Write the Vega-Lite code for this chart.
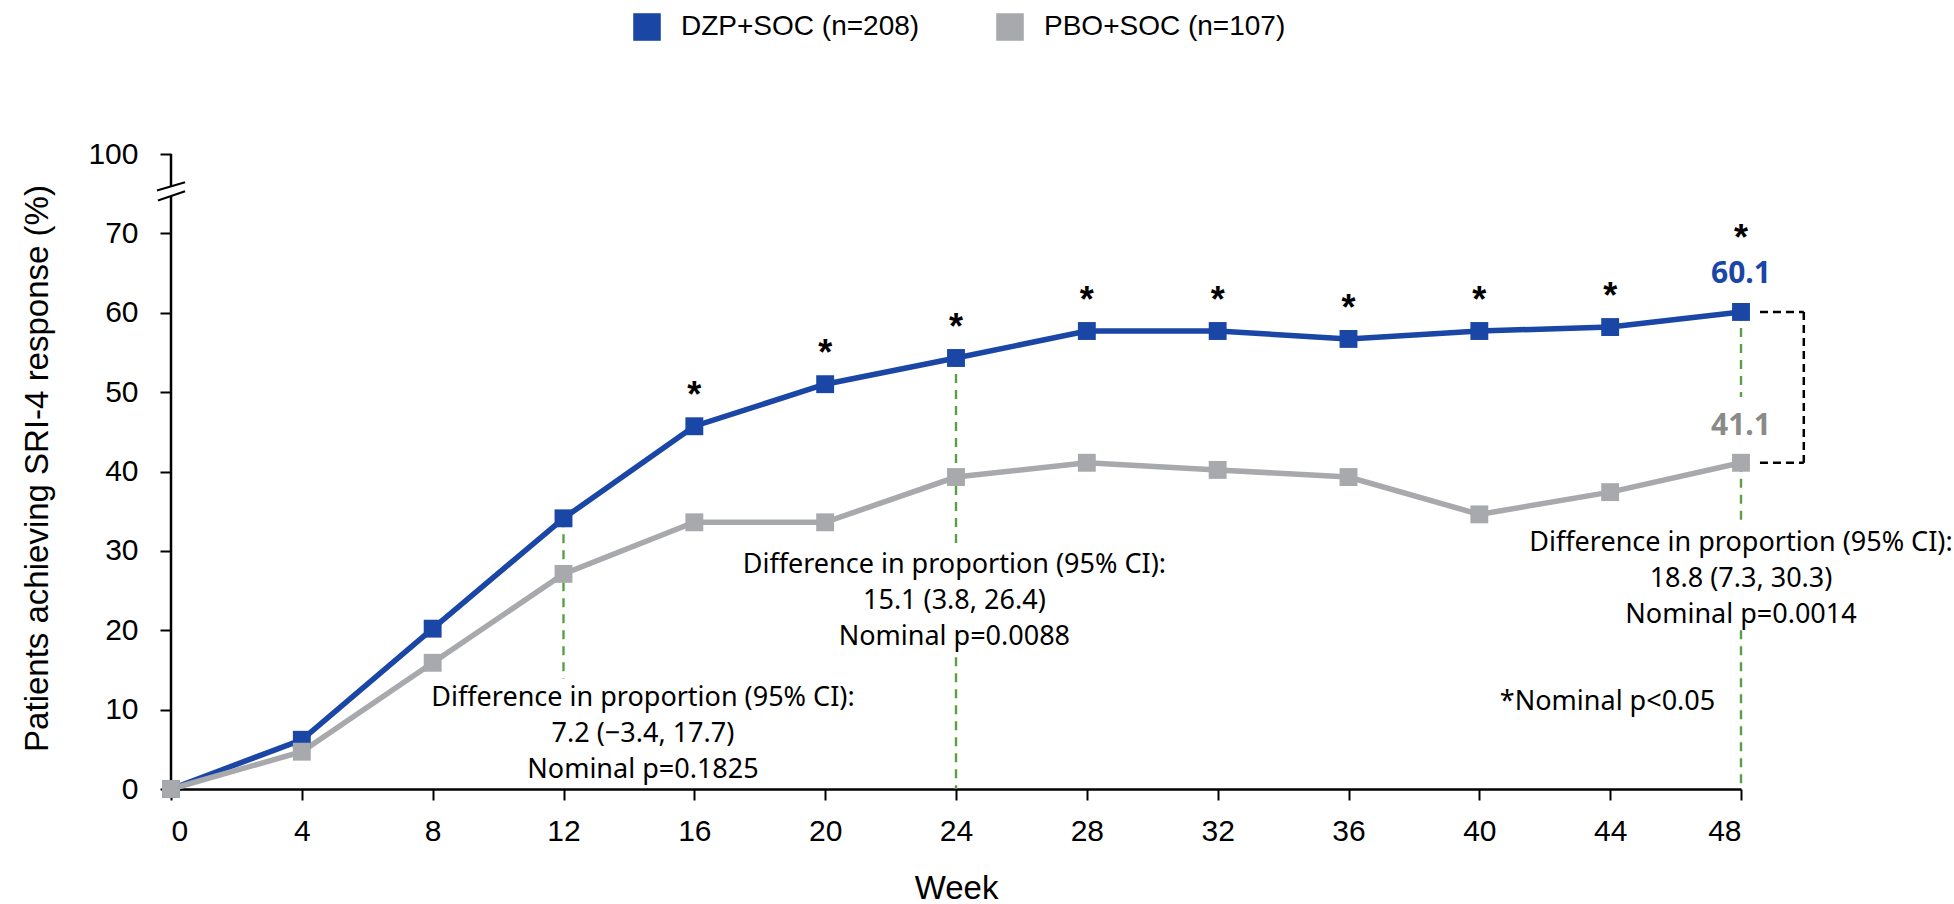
{
  "$schema": "https://vega.github.io/schema/vega-lite/v6.json",
  "width": 1570,
  "height": 635,
  "autosize": {"type": "none"},
  "padding": {"left": 171, "top": 154, "right": 213, "bottom": 115},
  "background": "white",
  "config": {
    "view": {"stroke": null},
    "font": "Liberation Sans",
    "axis": {
      "domainColor": "black", "domainWidth": 2.5, "tickColor": "black", "tickWidth": 2, "tickSize": 11,
      "labelFont": "Liberation Sans", "labelFontSize": 30, "labelColor": "black",
      "titleFont": "Liberation Sans", "titleFontSize": 33, "titleFontWeight": "normal", "titleColor": "black",
      "grid": false
    },
    "legend": {
      "orient": "none", "legendX": 462, "legendY": -141, "direction": "horizontal",
      "symbolType": "square", "symbolSize": 760, "symbolStrokeWidth": 0,
      "labelFont": "Liberation Sans", "labelFontSize": 28, "labelColor": "black", "labelLimit": 0,
      "labelOffset": 20, "columnPadding": 76
    }
  },
  "datasets": {
    "series": [
      {"week": 0, "v": 0, "grp": "DZP+SOC (n=208)"},
      {"week": 4, "v": 6.2, "grp": "DZP+SOC (n=208)"},
      {"week": 8, "v": 20.2, "grp": "DZP+SOC (n=208)"},
      {"week": 12, "v": 34.1, "grp": "DZP+SOC (n=208)"},
      {"week": 16, "v": 45.7, "grp": "DZP+SOC (n=208)"},
      {"week": 20, "v": 51.0, "grp": "DZP+SOC (n=208)"},
      {"week": 24, "v": 54.3, "grp": "DZP+SOC (n=208)"},
      {"week": 28, "v": 57.7, "grp": "DZP+SOC (n=208)"},
      {"week": 32, "v": 57.7, "grp": "DZP+SOC (n=208)"},
      {"week": 36, "v": 56.7, "grp": "DZP+SOC (n=208)"},
      {"week": 40, "v": 57.7, "grp": "DZP+SOC (n=208)"},
      {"week": 44, "v": 58.2, "grp": "DZP+SOC (n=208)"},
      {"week": 48, "v": 60.1, "grp": "DZP+SOC (n=208)"},
      {"week": 0, "v": 0, "grp": "PBO+SOC (n=107)"},
      {"week": 4, "v": 4.7, "grp": "PBO+SOC (n=107)"},
      {"week": 8, "v": 15.9, "grp": "PBO+SOC (n=107)"},
      {"week": 12, "v": 27.1, "grp": "PBO+SOC (n=107)"},
      {"week": 16, "v": 33.6, "grp": "PBO+SOC (n=107)"},
      {"week": 20, "v": 33.6, "grp": "PBO+SOC (n=107)"},
      {"week": 24, "v": 39.3, "grp": "PBO+SOC (n=107)"},
      {"week": 28, "v": 41.1, "grp": "PBO+SOC (n=107)"},
      {"week": 32, "v": 40.2, "grp": "PBO+SOC (n=107)"},
      {"week": 36, "v": 39.3, "grp": "PBO+SOC (n=107)"},
      {"week": 40, "v": 34.6, "grp": "PBO+SOC (n=107)"},
      {"week": 44, "v": 37.4, "grp": "PBO+SOC (n=107)"},
      {"week": 48, "v": 41.1, "grp": "PBO+SOC (n=107)"}
    ],
    "guides": [
      {"week": 12, "v": 34.1, "v2": 13.9},
      {"week": 24, "v": 54.3, "v2": 30.7},
      {"week": 24, "v": 16.6, "v2": 0},
      {"week": 48, "v": 60.1, "v2": 49.4},
      {"week": 48, "v": 41.1, "v2": 33.5},
      {"week": 48, "v": 20.0, "v2": 0}
    ],
    "bracket": [
      {"week": 48.58, "week2": 49.92, "v": 60.1, "v2": 60.1},
      {"week": 49.92, "week2": 49.92, "v": 60.1, "v2": 41.1},
      {"week": 48.58, "week2": 49.92, "v": 41.1, "v2": 41.1}
    ],
    "axisline": [
      {"week": 0, "week2": 0, "v": 0, "v2": 74.7},
      {"week": 0, "week2": 0, "v": 75.95, "v2": 80}
    ],
    "slashes": [
      {"week": -0.43, "week2": 0.43, "v": 75.4, "v2": 76.45},
      {"week": -0.40, "week2": 0.43, "v": 74.15, "v2": 75.3}
    ],
    "notes": [
      {"week": 14.43, "v": 11.46, "t": "Difference in proportion (95% CI):\n7.2 (\u22123.4, 17.7)\nNominal p=0.1825"},
      {"week": 23.95, "v": 28.2, "t": "Difference in proportion (95% CI):\n15.1 (3.8, 26.4)\nNominal p=0.0088"},
      {"week": 48, "v": 31.0, "t": "Difference in proportion (95% CI):\n18.8 (7.3, 30.3)\nNominal p=0.0014"},
      {"week": 43.92, "v": 10.95, "t": "*Nominal p<0.05"}
    ]
  },
  "encoding": {
    "x": {
      "field": "week", "type": "quantitative",
      "scale": {"domain": [0, 48], "nice": false, "zero": false},
      "axis": {
        "values": [0, 4, 8, 12, 16, 20, 24, 28, 32, 36, 40, 44, 48],
        "title": "Week", "labelPadding": 16, "titleY": 99, "titleBaseline": "middle"
      }
    },
    "y": {
      "field": "v", "type": "quantitative",
      "scale": {"domain": [0, 80], "nice": false, "zero": false},
      "axis": {
        "values": [0, 10, 20, 30, 40, 50, 60, 70, 80],
        "labelExpr": "datum.value === 80 ? '100' : datum.label",
        "domain": false,
        "title": "Patients achieving SRI-4 response (%)",
        "labelPadding": 22,
        "titleX": -134, "titleY": 314, "titleAngle": -90, "titleBaseline": "middle", "titleAlign": "center"
      }
    }
  },
  "layer": [
    {
      "data": {"name": "axisline"},
      "mark": {"type": "rule", "color": "black", "strokeWidth": 2.5},
      "encoding": {"x2": {"field": "week2"}, "y2": {"field": "v2"}}
    },
    {
      "data": {"name": "slashes"},
      "mark": {"type": "rule", "color": "black", "strokeWidth": 2},
      "encoding": {"x2": {"field": "week2"}, "y2": {"field": "v2"}}
    },
    {
      "data": {"name": "guides"},
      "mark": {"type": "rule", "color": "#5A9E47", "strokeWidth": 2.4, "strokeDash": [9, 7]},
      "encoding": {"y2": {"field": "v2"}}
    },
    {
      "data": {"name": "bracket"},
      "mark": {"type": "rule", "color": "black", "strokeWidth": 2.5, "strokeDash": [8, 5]},
      "encoding": {"x2": {"field": "week2"}, "y2": {"field": "v2"}}
    },
    {
      "data": {"name": "series"},
      "mark": {"type": "line", "strokeWidth": 5.5},
      "encoding": {
        "color": {
          "field": "grp", "type": "nominal", "title": null,
          "scale": {"domain": ["DZP+SOC (n=208)", "PBO+SOC (n=107)"], "range": ["#1A46A6", "#A8A9AC"]}
        }
      }
    },
    {
      "data": {"name": "series"},
      "mark": {"type": "square", "size": 320, "opacity": 1},
      "encoding": {
        "color": {
          "field": "grp", "type": "nominal", "title": null,
          "scale": {"domain": ["DZP+SOC (n=208)", "PBO+SOC (n=107)"], "range": ["#1A46A6", "#A8A9AC"]}
        }
      }
    },
    {
      "data": {"name": "series"},
      "transform": [{"filter": "datum.grp === 'DZP+SOC (n=208)' && datum.week >= 16 && datum.week < 48"}],
      "mark": {"type": "text", "font": "Liberation Sans", "fontWeight": "bold", "fontSize": 36, "color": "black", "baseline": "alphabetic", "align": "center", "dy": -19},
      "encoding": {"text": {"value": "*"}}
    },
    {
      "data": {"name": "series"},
      "transform": [{"filter": "datum.grp === 'DZP+SOC (n=208)' && datum.week === 48"}],
      "mark": {"type": "text", "font": "Liberation Sans", "fontWeight": "bold", "fontSize": 36, "color": "black", "baseline": "alphabetic", "align": "center", "dy": -62},
      "encoding": {"text": {"value": "*"}}
    },
    {
      "data": {"name": "series"},
      "transform": [{"filter": "datum.grp === 'DZP+SOC (n=208)' && datum.week === 48"}],
      "mark": {"type": "text", "font": "Noto Sans", "fontWeight": "bold", "fontSize": 30, "color": "#1A46A6", "baseline": "middle", "align": "center", "dy": -38},
      "encoding": {"text": {"field": "v", "type": "quantitative", "format": ".1f"}}
    },
    {
      "data": {"name": "series"},
      "transform": [{"filter": "datum.grp === 'PBO+SOC (n=107)' && datum.week === 48"}],
      "mark": {"type": "text", "font": "Noto Sans", "fontWeight": "bold", "fontSize": 30, "color": "#8A8A8A", "baseline": "middle", "align": "center", "dy": -37},
      "encoding": {"text": {"field": "v", "type": "quantitative", "format": ".1f"}}
    },
    {
      "data": {"name": "notes"},
      "mark": {"type": "text", "font": "Noto Sans", "fontSize": 27, "color": "black", "baseline": "middle", "align": "center", "lineBreak": "\n", "lineHeight": 36},
      "encoding": {"text": {"field": "t", "type": "nominal"}}
    }
  ]
}
